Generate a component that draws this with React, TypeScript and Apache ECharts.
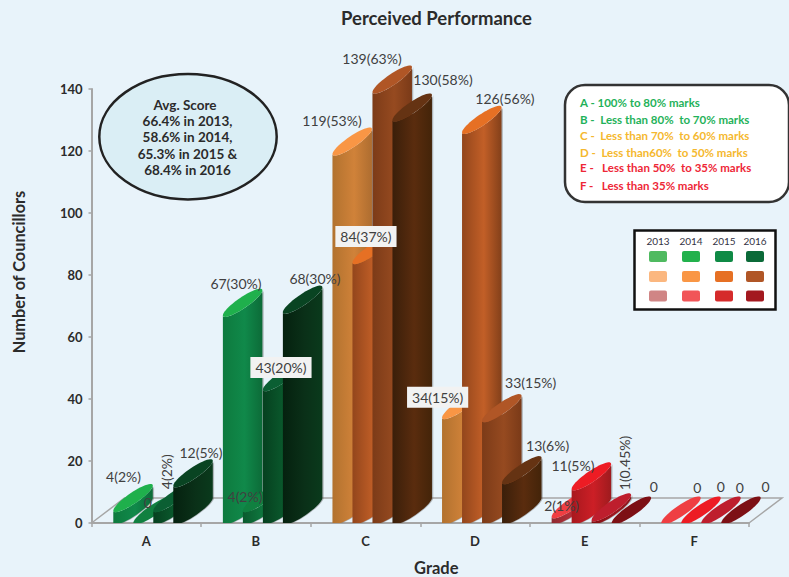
import React, { useEffect, useRef } from "react";
import * as echarts from "echarts";

const FONT = "Lato";
const categories = ["A", "B", "C", "D", "E", "F"];
const years = ["2013", "2014", "2015", "2016"];
const values2013 = [4, 67, 119, 34, 2, 0];
const values2014 = [0, 4, 84, 126, 11, 0];
const values2015 = [4, 43, 139, 33, 1, 0];
const values2016 = [12, 68, 130, 13, 0, 0];
const labels2013 = ["4(2%)", "67(30%)", "119(53%)", "34(15%)", "2(1%)", "0"];
const labels2014 = ["0", "4(2%)", "84(37%)", "126(56%)", "11(5%)", "0"];
const labels2015 = ["4(2%)", "43(20%)", "139(63%)", "33(15%)", "1(0.45%)", "0"];
const labels2016 = ["12(5%)", "68(30%)", "130(58%)", "13(6%)", "0", "0"];
const yTicks = { min: 0, max: 140, interval: 20 };
const gradeNotes = [
  "A - 100% to 80% marks",
  "B -  Less than 80%  to 70% marks",
  "C -  Less than 70%  to 60% marks",
  "D -  Less than60%  to 50% marks",
  "E -   Less than 50%  to 35% marks",
  "F -   Less than 35% marks",
];
const avgLines = ["Avg. Score", "66.4% in 2013,", "58.6% in 2014,", "65.3% in 2015 &", "68.4% in 2016"];

const allValues = [values2013, values2014, values2015, values2016];
const allLabels = [labels2013, labels2014, labels2015, labels2016];

// label placement relative to the top-left corner of each bar (styling only)
const labelOffsets = [
  [[10.2, -34.3], [13.1, -32], [-0.5, -33.8], [-4.4, -20.4], [10, -11.6], [36, -35.7]],
  [[14.4, -20.4], [2.1, -14.6], [13.5, -26.1], [42.9, -34.1], [1.3, -23.6], [39.7, -36.7]],
  [[13.4, -38.9], [18.1, -22.2], [-0.5, -33.8], [48.6, -38.1], [33.3, -56.9], [38.7, -35.7]],
  [[27.7, -33.5], [32.1, -33.9], [50.5, -40.7], [45.6, -37.7], [42.3, -36.7], [44.4, -36.7]],
];
const boxedLabels = ["2014-2", "2015-1", "2013-3"];
const rotatedLabels = ["2015-0", "2015-4"];

// [top, left edge, middle, right edge]
const greens = [
  ["#1FB04C", "#0E7A3E", "#10894A", "#0C6B38"],
  ["#108040", "#0B5A2E", "#0F7A40", "#0A5A2D"],
  ["#0B5F33", "#06401F", "#0A5A2D", "#06401F"],
  ["#094422", "#05210F", "#0A3018", "#0A3A1C"],
];
const oranges = [
  ["#F99645", "#B2722F", "#D08239", "#AE6D30"],
  ["#E67024", "#93461C", "#C25F27", "#83401A"],
  ["#B05626", "#7C3B18", "#964A20", "#7A3A18"],
  ["#653313", "#3A1F0A", "#5A2C0E", "#432409"],
];
const reds = [
  ["#EF3E42", "#8E2A30", "#B9303A", "#A52A30"],
  ["#ED1C24", "#A8181E", "#CC1F26", "#9E1B1E"],
  ["#BE1E2D", "#7E0F12", "#A0161E", "#8A1418"],
  ["#7D1015", "#4A0A0C", "#6A0E10", "#5C0C0E"],
];
const groupOfCategory = [greens, greens, oranges, oranges, reds, reds];

const swatches = [
  ["#4FBA60", "#22B14C", "#0F8A45", "#0B6A38"],
  ["#FBB77F", "#F99645", "#E67024", "#B05626"],
  ["#D08585", "#F15558", "#D52B2B", "#A3181F"],
];
const noteColors = ["#1FB25A", "#1FB25A", "#F5B82E", "#F5B82E", "#EE2737", "#EE2737"];

const BAR_W = 39.5;
const LEAF_H = 25;
const LEAF_K = 6.5;
const STEP = 20;
const FIRST = -33;

function arc(x0: number, yLeft: number, from: number, to: number, base: number, n = 20) {
  const cx = x0 + BAR_W / 2;
  const cy = yLeft - LEAF_H / 2;
  const pts: number[][] = [];
  for (let i = 0; i <= n; i++) {
    const t = from + ((to - from) * i) / n;
    const x = cx + (BAR_W / 2) * Math.cos(t);
    const y = cy - (LEAF_H / 2) * Math.cos(t) + LEAF_K * Math.sin(t);
    pts.push([x, Math.min(y, base)]);
  }
  return pts;
}

function barRenderer(year: number) {
  return (params: any, api: any) => {
    const cat = api.value(0);
    const p = api.coord([cat, api.value(1)]);
    const base = api.coord([cat, 0])[1];
    const x0 = p[0] + FIRST + STEP * year;
    const y = p[1];
    const [top, l, m, r] = groupOfCategory[cat][year];
    const children: any[] = [];
    if (api.value(1) > 0) {
      const body = [...arc(x0, y, Math.PI, 0, base), ...arc(x0, base, 0, Math.PI, base)];
      children.push({
        type: "polygon",
        shape: { points: body.map(([px, py]) => [px + 1.3, py]) },
        style: { fill: "rgba(90,90,90,0.4)" },
      });
      children.push({
        type: "polygon",
        shape: { points: body },
        style: {
          fill: new echarts.graphic.LinearGradient(0, 0, 1, 0, [
            { offset: 0, color: l },
            { offset: 0.55, color: m },
            { offset: 1, color: r },
          ]),
        },
      });
    }
    children.push({
      type: "polygon",
      shape: { points: arc(x0, y, 0, Math.PI * 2, base, 48) },
      style: { fill: top },
    });
    return { type: "group", children };
  };
}

function labelRenderer(year: number) {
  return (params: any, api: any) => {
    const cat = api.value(0);
    const p = api.coord([cat, api.value(1)]);
    const [dx, dy] = labelOffsets[year][cat];
    const key = `${years[year]}-${cat}`;
    const boxed = boxedLabels.includes(key);
    return {
      type: "text",
      x: p[0] + FIRST + STEP * year + dx,
      y: p[1] + dy,
      rotation: rotatedLabels.includes(key) ? Math.PI / 2 : 0,
      style: {
        text: allLabels[year][cat],
        font: `14px ${FONT}`,
        fill: "#404040",
        align: "center",
        verticalAlign: "middle",
        ...(boxed ? { backgroundColor: "#F2F2F2", padding: [4, 5, 3, 5] } : {}),
      },
    };
  };
}

const textStyleBold = { fontFamily: FONT, fontWeight: "bold" as const, color: "#2B2B2B" };

function decorations() {
  const g: any[] = [];
  const floorStyle = { stroke: "#A6A6A6", lineWidth: 1.5, fill: "none" };
  g.push({ type: "polyline", z: 0, shape: { points: [[91.5, 523], [124.5, 498], [782, 498], [749, 523]] }, style: floorStyle });

  g.push({ type: "ellipse", z: 10, shape: { cx: 188, cy: 136.7, rx: 88.7, ry: 62.7 }, style: { fill: "#DAEEF5", stroke: "#222222", lineWidth: 2.5 } });
  avgLines.forEach((t, i) => {
    g.push({ type: "text", z: 11, x: i === 0 ? 185 : 187.5, y: 105 + i * 16.2, style: { text: t, font: `bold 13.5px ${FONT}`, fill: "#2B2B2B", align: "center", verticalAlign: "middle" } });
  });

  g.push({ type: "rect", z: 10, shape: { x: 565, y: 85, width: 224, height: 117, r: 20 }, style: { fill: "#FFFFFF", stroke: "#333333", lineWidth: 2.5 } });
  const noteY = [102, 119, 135, 152, 167, 185];
  gradeNotes.forEach((t, i) => {
    g.push({ type: "text", z: 11, x: 580, y: noteY[i], style: { text: t, font: `bold 11.5px ${FONT}`, fill: noteColors[i], align: "left", verticalAlign: "middle" } });
  });

  g.push({ type: "rect", z: 10, shape: { x: 634.5, y: 230.5, width: 141, height: 79 }, style: { fill: "#FFFFFF", stroke: "#111111", lineWidth: 2.5 } });
  const colX = [658, 691, 724, 755];
  const rowY = [256.5, 276.5, 296];
  years.forEach((t, j) => {
    g.push({ type: "text", z: 11, x: colX[j], y: 241, style: { text: t, font: `10px ${FONT}`, fill: "#333344", align: "center", verticalAlign: "middle" } });
  });
  swatches.forEach((row, i) => {
    row.forEach((c, j) => {
      g.push({ type: "rect", z: 11, shape: { x: colX[j] - 9, y: rowY[i] - 5.5, width: 18, height: 11, r: 2 }, style: { fill: c } });
    });
  });
  return g;
}

export default function App() {
  const ref = useRef<HTMLDivElement>(null);
  useEffect(() => {
    document.body.style.margin = "0";
    const chart = echarts.init(ref.current!, null, { renderer: "svg" });
    const barSeries = years.map((y, yi) => ({
      type: "custom",
      name: y,
      z: 2,
      renderItem: barRenderer(yi),
      encode: { x: 0, y: 1 },
      data: allValues[yi].map((v, i) => [i, v]),
    }));
    const labelSeries = years.map((y, yi) => ({
      type: "custom",
      name: y + " labels",
      z: 3,
      renderItem: labelRenderer(yi),
      encode: { x: 0, y: 1 },
      data: allValues[yi].map((v, i) => [i, v]),
    }));
    chart.setOption({
      animation: false,
      backgroundColor: "#E8F3FA",
      title: {
        text: "Perceived Performance",
        left: 431.5,
        top: 3,
        textAlign: "center",
        textStyle: { ...textStyleBold, fontSize: 18.5 },
      },
      grid: { left: 91.5, top: 89, width: 657.5, height: 434, outerBoundsMode: "none" },
      xAxis: {
        type: "category",
        data: categories,
        name: "Grade",
        nameLocation: "middle",
        nameGap: 36,
        nameTextStyle: { ...textStyleBold, fontSize: 16.5, padding: [0, 0, 0, 32] },
        axisLine: { lineStyle: { color: "#A6A6A6", width: 2 } },
        axisTick: { show: true, alignWithLabel: false, length: 4, lineStyle: { color: "#A6A6A6", width: 1.5 } },
        axisLabel: { ...textStyleBold, fontSize: 13, margin: 11 },
      },
      yAxis: {
        type: "value",
        min: yTicks.min,
        max: yTicks.max,
        interval: yTicks.interval,
        name: "Number of Councillors",
        nameLocation: "middle",
        nameGap: 65,
        nameTextStyle: { ...textStyleBold, fontSize: 16.3, padding: [0, 0, 0, 68] },
        axisLine: { show: true, lineStyle: { color: "#A6A6A6", width: 2 } },
        axisTick: { show: true, length: 3, lineStyle: { color: "#A6A6A6", width: 1.5 } },
        axisLabel: { ...textStyleBold, fontSize: 13, margin: 9 },
        splitLine: { show: false },
      },
      graphic: decorations(),
      series: [...barSeries, ...labelSeries],
    });
    return () => chart.dispose();
  }, []);
  return <div ref={ref} style={{ position: "absolute", left: 0, top: 0, width: 789, height: 577 }} />;
}
